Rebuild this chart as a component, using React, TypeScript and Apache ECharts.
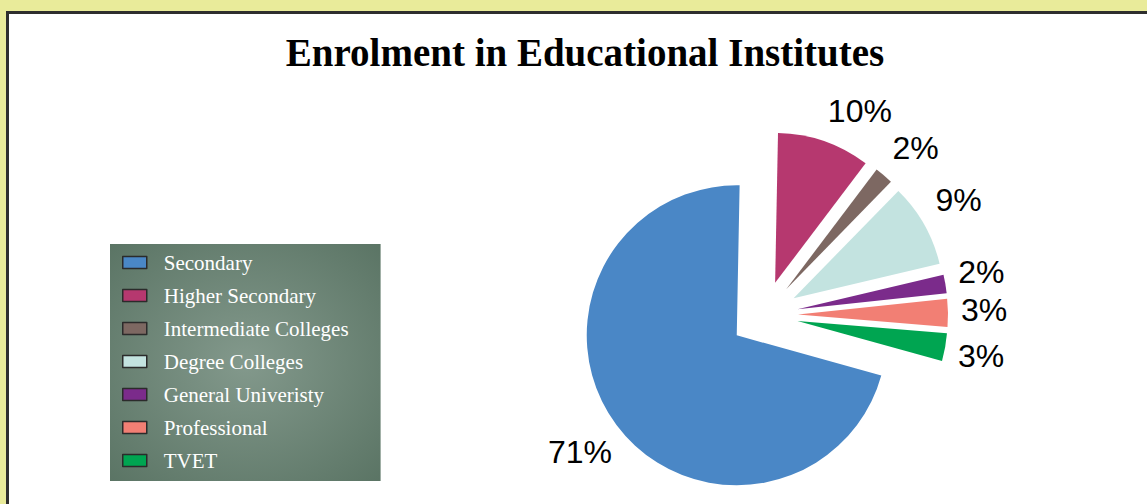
import React, { useEffect, useRef } from 'react';
import * as echarts from 'echarts';

const categories = [
  'Secondary',
  'Higher Secondary',
  'Intermediate Colleges',
  'Degree Colleges',
  'General Univeristy',
  'Professional',
  'TVET',
];
const shares = [71, 10, 2, 9, 2, 3, 3];
const sliceColors = ['#4a87c6', '#b6386f', '#7d6862', '#c3e3e0', '#7b2b8b', '#f27f74', '#00a551'];
const chartTitle = 'Enrolment in Educational Institutes';

const START_ANGLE = 344.5;
const CENTER = [764, 315];
const RADIUS = 150;
const EXPLODE = 34;
const LABEL_FONT = 32;

function midAngles(values: number[]) {
  const total = values.reduce((a, b) => a + b, 0);
  let a = START_ANGLE;
  return values.map((v) => {
    const span = (v / total) * 360;
    const m = a - span / 2;
    a -= span;
    return m;
  });
}

function measure(text: string) {
  const ctx = document.createElement('canvas').getContext('2d');
  if (!ctx) return text.length * LABEL_FONT * 0.6;
  ctx.font = `${LABEL_FONT}px "Liberation Sans"`;
  return ctx.measureText(text).width;
}

export default function App() {
  const ref = useRef<HTMLDivElement>(null);
  useEffect(() => {
    const el = ref.current!;
    const chart = echarts.init(el, null, { renderer: 'svg' });
    const mids = midAngles(shares);
    const clamp = (v: number) => Math.max(-1, Math.min(1, v));

    // percentage labels placed just outside each exploded slice ("outside end")
    const labelTexts = shares.map((v, i) => {
      const m = (mids[i] * Math.PI) / 180;
      const c = Math.cos(m);
      const s = Math.sin(m);
      const text = `${v}%`;
      const w = measure(text);
      const r = EXPLODE + RADIUS + 13;
      const right = c > 0;
      const x = CENTER[0] + r * c + (w / 2) * clamp(3 * c) + (right ? 0 : 6);
      const y = CENTER[1] - r * s - 15.5 * clamp(3 * s) + (right ? -2 : 4);
      return {
        type: 'text',
        z: 20,
        silent: true,
        style: {
          text,
          x,
          y,
          align: 'center',
          verticalAlign: 'middle',
          fontFamily: 'Liberation Sans',
          fontSize: LABEL_FONT,
          fill: '#000',
        },
      };
    });

    chart.setOption({
      animation: false,
      backgroundColor: '#e9eb9a',
      graphic: [
        {
          type: 'rect',
          z: -100,
          silent: true,
          shape: { x: 7.5, y: 12.5, width: 1200, height: 600 },
          style: { fill: '#ffffff', stroke: '#2e2e2e', lineWidth: 3 },
        },
        {
          type: 'text',
          z: 10,
          style: {
            text: chartTitle,
            x: 585,
            y: 52,
            align: 'center',
            verticalAlign: 'middle',
            fontFamily: 'Liberation Serif',
            fontWeight: 'bold',
            fontSize: 39,
            fill: '#000',
          },
        },
        ...labelTexts,
      ],
      legend: {
        orient: 'vertical',
        left: 110,
        top: 244,
        padding: [8, 32, 10, 12],
        itemWidth: 24,
        itemHeight: 12,
        itemGap: 12,
        icon: 'rect',
        itemStyle: { borderColor: '#2b2b2b', borderWidth: 1.5 },
        textStyle: {
          color: '#ffffff',
          fontFamily: 'Liberation Serif',
          fontSize: 21,
          lineHeight: 21,
          padding: [0, 0, 0, 12],
        },
        backgroundColor: new echarts.graphic.RadialGradient(0.5, 0.5, 0.75, [
          { offset: 0, color: '#83998c' },
          { offset: 1, color: '#587262' },
        ]),
        data: categories,
      },
      series: [
        {
          type: 'pie',
          center: CENTER,
          radius: [0, RADIUS],
          startAngle: START_ANGLE,
          clockwise: true,
          avoidLabelOverlap: false,
          selectedMode: 'multiple',
          selectedOffset: EXPLODE,
          emphasis: { disabled: true },
          itemStyle: { borderWidth: 0 },
          select: { itemStyle: { borderWidth: 0 } },
          label: { show: false },
          labelLine: { show: false },
          data: categories.map((name, i) => ({
            name,
            value: shares[i],
            selected: true,
            itemStyle: { color: sliceColors[i] },
          })),
        },
      ],
    });
    return () => chart.dispose();
  }, []);
  return <div ref={ref} style={{ position: 'fixed', left: 0, top: 0, width: 1147, height: 504 }} />;
}
